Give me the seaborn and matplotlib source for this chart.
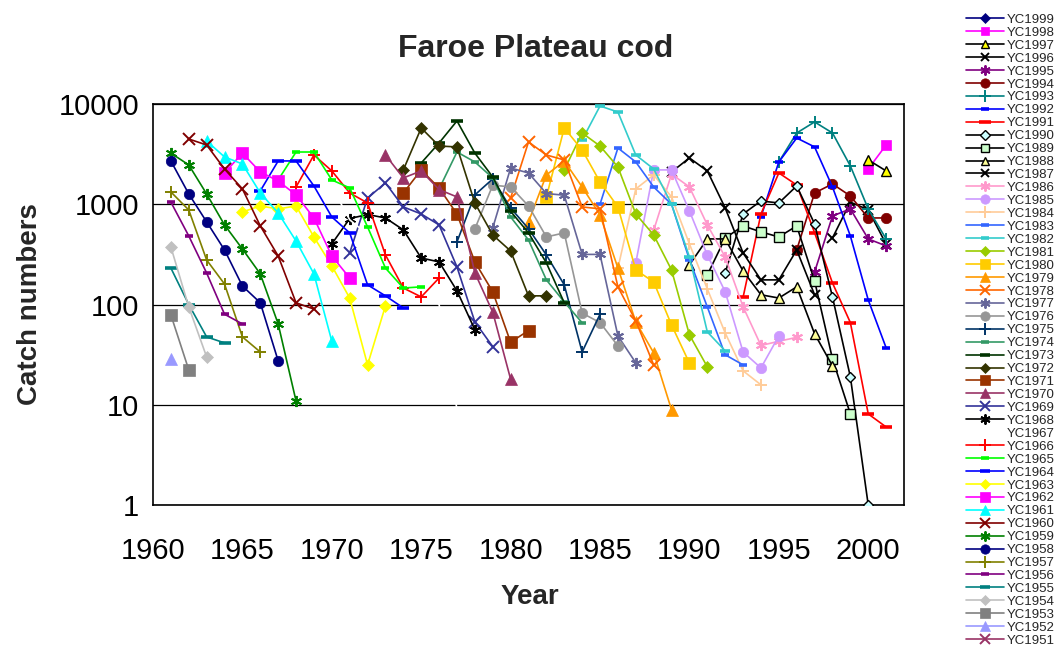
import numpy as np
import pandas as pd
import matplotlib
matplotlib.use("Agg")
import matplotlib.pyplot as plt
import seaborn as sns
from matplotlib.lines import Line2D

# ---------------- data (catch numbers by year class) ----------------
labels = ["YC1999", "YC1998", "YC1997", "YC1996", "YC1995", "YC1994", "YC1993",
          "YC1992", "YC1991", "YC1990", "YC1989", "YC1988", "YC1987", "YC1986",
          "YC1985", "YC1984", "YC1983", "YC1982", "YC1981", "YC1980", "YC1979",
          "YC1978", "YC1977", "YC1976", "YC1975", "YC1974", "YC1973", "YC1972",
          "YC1971", "YC1970", "YC1969", "YC1968", "YC1967", "YC1966", "YC1965",
          "YC1964", "YC1963", "YC1962", "YC1961", "YC1960", "YC1959", "YC1958",
          "YC1957", "YC1956", "YC1955", "YC1954", "YC1953", "YC1952", "YC1951"]

# first year in which each year class appears in the catch
start_years = [2001, 2000, 2000, 1998, 1997, 1996, 1995,
               1994, 1993, 1992, 1991, 1990, 1989, 1988,
               1987, 1986, 1985, 1984, 1983, 1982, 1981,
               1980, 1979, 1978, 1977, 1976, 1975, 1974,
               1974, 1973, 1971, 1970, 1969, 1968, 1967,
               1966, 1965, 1964, 1963, 1962, 1961, 1961,
               1961, 1961, 1961, 1961, 1961, 1961, 1961]

yc1999 = []
yc1998 = [2250, 3900]
yc1997 = [2770, 2150]
yc1996 = [461, 1050, 880, 400]
yc1995 = [211, 764, 898, 451, 384]
yc1994 = [350, 1296, 1594, 1210, 730, 730]
yc1993 = [2642, 5140, 6622, 5140, 2410, 898, 451]
yc1992 = [750, 2642, 4580, 3730, 1487, 483, 111, 37]
yc1991 = [118, 800, 2051, 1557, 520, 164, 66, 8.1, 6.0]
yc1990 = [207, 800, 1078, 1030, 1522, 637, 119, 19, 1.0]
yc1989 = [197, 460, 608, 530, 472, 608, 172, 28.7, 8.1]
yc1988 = [248, 451, 451, 216, 125, 116, 150, 51, 24.4]
yc1987 = [2100, 2897, 2150, 918, 327, 176, 176, 350, 125]
yc1986 = [550, 2000, 1487, 622, 298, 95, 39, 43, 47]
yc1985 = [260, 2200, 2200, 857, 312, 134, 33.6, 23.3, 48.6]
yc1984 = [230, 1422, 1960, 1183, 402, 143, 52, 21.8, 15.8]
yc1983 = [1000, 3640, 2642, 1487, 1000, 280, 94.6, 31.5, 25]
yc1982 = [4377, 9550, 8318, 3100, 2250, 1000, 298, 53.3, 34.5]
yc1981 = [2200, 5140, 3810, 2355, 800, 494, 221, 49.8, 23.9]
yc1980 = [1183, 5767, 3478, 1668, 940, 221, 168, 62.5, 26]
yc1979 = [667, 1960, 2700, 1487, 782, 231, 67, 33, 8.9]
yc1978 = [1155, 4180, 3100, 2766, 940, 900, 150, 68.7, 25]
yc1977 = [580, 2300, 2051, 1280, 1230, 316, 316, 48.6, 26.2]
yc1976 = [567, 1550, 1490, 962, 472, 518, 82, 66, 38.7]
yc1975 = [421, 1239, 1790, 918, 570, 312, 157, 33.6, 80]
yc1974 = [1422, 3320, 2642, 1830, 747, 440, 176, 106, 65.7]
yc1973 = [2582, 4087, 6780, 3236, 1871, 850, 518, 260, 104]
yc1972 = [2200, 5767, 3810, 3730, 1030, 494, 342, 122, 122]
yc1971 = [1296, 2200, 1450, 800, 266, 134, 42, 55]
yc1970 = [3100, 1830, 2150, 1400, 1183, 207, 84, 18]
yc1969 = [327, 1155, 1631, 940, 800, 622, 237, 67, 38]
yc1968 = [402, 720, 790, 730, 555, 291, 266, 137, 56]
yc1967 = [2500, 1500, 700, 500, 300, 200, 150, 100, 9]
yc1966 = [1487, 3100, 2150, 1296, 1030, 312, 146, 119, 184]
yc1965 = [1750, 3320, 3320, 1748, 1455, 594, 231, 146, 150]
yc1964 = [1358, 2704, 2704, 1522, 747, 518, 157, 122, 92.5]
yc1963 = [838, 962, 898, 962, 472, 243, 116, 25, 97]
yc1962 = [2051, 3236, 2100, 1708, 1239, 730, 305, 184]
yc1961 = [4276, 2964, 2523, 1296, 818, 430, 202, 43]
yc1960 = [4477, 3900, 2249, 1422, 608, 305, 104, 90]
yc1959 = [3236, 2467, 1267, 622, 358, 202, 64, 10.9]
yc1958 = [2704, 1267, 667, 350, 153, 104, 27.4]
yc1957 = [1327, 877, 278, 160, 47.5, 33.6]
yc1956 = [1050, 483, 206, 80, 64]
yc1955 = [231, 100, 47.5, 41.4]
yc1954 = [375, 94.6, 30]
yc1953 = [78.7, 22.3]
yc1952 = [28.7]
yc1951 = []

series_values = [yc1999, yc1998, yc1997, yc1996, yc1995, yc1994, yc1993,
                 yc1992, yc1991, yc1990, yc1989, yc1988, yc1987, yc1986,
                 yc1985, yc1984, yc1983, yc1982, yc1981, yc1980, yc1979,
                 yc1978, yc1977, yc1976, yc1975, yc1974, yc1973, yc1972,
                 yc1971, yc1970, yc1969, yc1968, yc1967, yc1966, yc1965,
                 yc1964, yc1963, yc1962, yc1961, yc1960, yc1959, yc1958,
                 yc1957, yc1956, yc1955, yc1954, yc1953, yc1952, yc1951]

y_ticks = [1, 10, 100, 1000, 10000]
y_ticklabels = ["1", "10", "100", "1000", "10000"]
x_ticks = [1960, 1965, 1970, 1975, 1980, 1985, 1990, 1995, 2000]

# ---------------- styles ----------------
AST = (6, 2, 0)  # Excel-like asterisk
# (line colour, marker, face colour, edge colour, marker size)
styles = [
    ("#000080", "D", "#000080", "#000080", 5.5),   # 1999
    ("#FF00FF", "s", "#FF00FF", "#FF00FF", 7),     # 1998
    ("#000000", "^", "#FFFF00", "#000000", 7),     # 1997
    ("#000000", "x", "none", "#000000", 7),        # 1996
    ("#800080", AST, "none", "#800080", 8),        # 1995
    ("#800000", "o", "#800000", "#800000", 7.5),   # 1994
    ("#008080", "+", "none", "#008080", 9),        # 1993
    ("#0000FF", "_", "none", "#0000FF", 6),        # 1992
    ("#FF0000", "_", "none", "#FF0000", 9),        # 1991
    ("#000000", "D", "#CCFFFF", "#000000", 5.5),   # 1990
    ("#000000", "s", "#CCFFCC", "#000000", 7),     # 1989
    ("#000000", "^", "#FFFF99", "#000000", 7),     # 1988
    ("#000000", "x", "none", "#000000", 7),        # 1987
    ("#FF99CC", AST, "none", "#FF99CC", 8),        # 1986
    ("#CC99FF", "o", "#CC99FF", "#CC99FF", 7.5),   # 1985
    ("#FFCC99", "+", "none", "#FFCC99", 9),        # 1984
    ("#3366FF", "_", "none", "#3366FF", 6),        # 1983
    ("#33CCCC", "_", "none", "#33CCCC", 7),        # 1982
    ("#99CC00", "D", "#99CC00", "#99CC00", 6),     # 1981
    ("#FFCC00", "s", "#FFCC00", "#FFCC00", 8),     # 1980
    ("#FF9900", "^", "#FF9900", "#FF9900", 8),     # 1979
    ("#FF6600", "x", "none", "#FF6600", 8),        # 1978
    ("#666699", AST, "none", "#666699", 8),        # 1977
    ("#969696", "o", "#969696", "#969696", 7.5),   # 1976
    ("#003366", "+", "none", "#003366", 9),        # 1975
    ("#339966", "_", "none", "#339966", 6),        # 1974
    ("#003300", "_", "none", "#003300", 8),        # 1973
    ("#333300", "D", "#333300", "#333300", 6),     # 1972
    ("#993300", "s", "#993300", "#993300", 8),     # 1971
    ("#993366", "^", "#993366", "#993366", 8),     # 1970
    ("#333399", "x", "none", "#333399", 8),        # 1969
    ("#000000", AST, "none", "#000000", 8),        # 1968
    ("#FFFFFF", "None", "none", "#FFFFFF", 0),     # 1967
    ("#FF0000", "+", "none", "#FF0000", 9),        # 1966
    ("#00FF00", "_", "none", "#00FF00", 6),        # 1965
    ("#0000FF", "_", "none", "#0000FF", 8),        # 1964
    ("#FFFF00", "D", "#FFFF00", "#FFFF00", 6),     # 1963
    ("#FF00FF", "s", "#FF00FF", "#FF00FF", 8),     # 1962
    ("#00FFFF", "^", "#00FFFF", "#00FFFF", 8),     # 1961
    ("#800000", "x", "none", "#800000", 8),        # 1960
    ("#008000", AST, "none", "#008000", 8),        # 1959
    ("#000080", "o", "#000080", "#000080", 7.5),   # 1958
    ("#808000", "+", "none", "#808000", 9),        # 1957
    ("#800080", "_", "none", "#800080", 6),        # 1956
    ("#008080", "_", "none", "#008080", 8),        # 1955
    ("#C0C0C0", "D", "#C0C0C0", "#C0C0C0", 6),     # 1954
    ("#808080", "s", "#808080", "#808080", 8),     # 1953
    ("#9999FF", "^", "#9999FF", "#9999FF", 8),     # 1952
    ("#993366", "x", "none", "#993366", 8),        # 1951
]

sns.set_theme(style="white")
plt.rcParams["font.family"] = ["Liberation Sans", "DejaVu Sans"]

fig = plt.figure(figsize=(10.58, 6.48), dpi=100)
ax = fig.add_axes([153 / 1058, 1 - 505 / 648, (904 - 153) / 1058, (505 - 104) / 648])

handles = []
for i, (lab, start, vals, st) in enumerate(zip(labels, start_years, series_values, styles)):
    color, marker, mfc, mec, ms = st
    mew = 2.6 if marker == "_" else (1.0 if mfc not in ("none",) and mec == "#000000" else 1.4)
    if marker in ("D", "s", "o", "^") and mec != "#000000":
        mew = 0.5
    kw = dict(color=color, lw=1.2, marker=marker, markersize=ms,
              markerfacecolor=mfc, markeredgecolor=mec, markeredgewidth=mew,
              zorder=3 + i * 0.01)
    if len(vals) > 0:
        years = np.arange(start, start + len(vals))
        df = pd.DataFrame({"Year": years, "Catch": vals})
        sns.lineplot(data=df, x="Year", y="Catch", ax=ax, sort=False,
                     estimator=None, legend=False, **kw)
    handles.append(Line2D([], [], label=lab, **{k: v for k, v in kw.items() if k != "zorder"}))

ax.set_yscale("log")
ax.set_ylim(1, 10000)
ax.set_xlim(1960, 2002)
ax.set_yticks(y_ticks)
ax.set_yticklabels(y_ticklabels)
ax.yaxis.set_minor_locator(matplotlib.ticker.NullLocator())
ax.set_xticks(x_ticks)
ax.set_xticklabels([str(x) for x in x_ticks])
ax.tick_params(axis="both", which="major", labelsize=21, direction="out",
               length=6, width=1, color="black", labelcolor="black")
ax.tick_params(axis="x", pad=17)
ax.tick_params(axis="y", length=4, pad=6)
ax.set_axisbelow(True)
ax.yaxis.grid(True, color="black", lw=0.9)
ax.xaxis.grid(False)
for s in ax.spines.values():
    s.set_color("black")
    s.set_linewidth(1.2)

ax.set_xlabel("")
ax.set_ylabel("")
fig.text(530 / 1058, 1 - 597 / 648, "Year", ha="center", va="center",
         fontsize=20, fontweight="bold")
fig.text(30 / 1058, 1 - 304 / 648, "Catch numbers", ha="center", va="center",
         rotation=90, fontsize=20, fontweight="bold")
fig.text(536 / 1058, 1 - 49 / 648, "Faroe Plateau cod", ha="center", va="center",
         fontsize=23, fontweight="bold")

leg = fig.legend(handles=handles, loc="upper left",
                 bbox_to_anchor=(963 / 1058, 1 - 11 / 648),
                 fontsize=9.5, handlelength=2.9, handletextpad=0.25,
                 labelspacing=0.053, borderpad=0.2, borderaxespad=0,
                 frameon=False, markerscale=0.9)

fig.savefig("out.png", dpi=100)
